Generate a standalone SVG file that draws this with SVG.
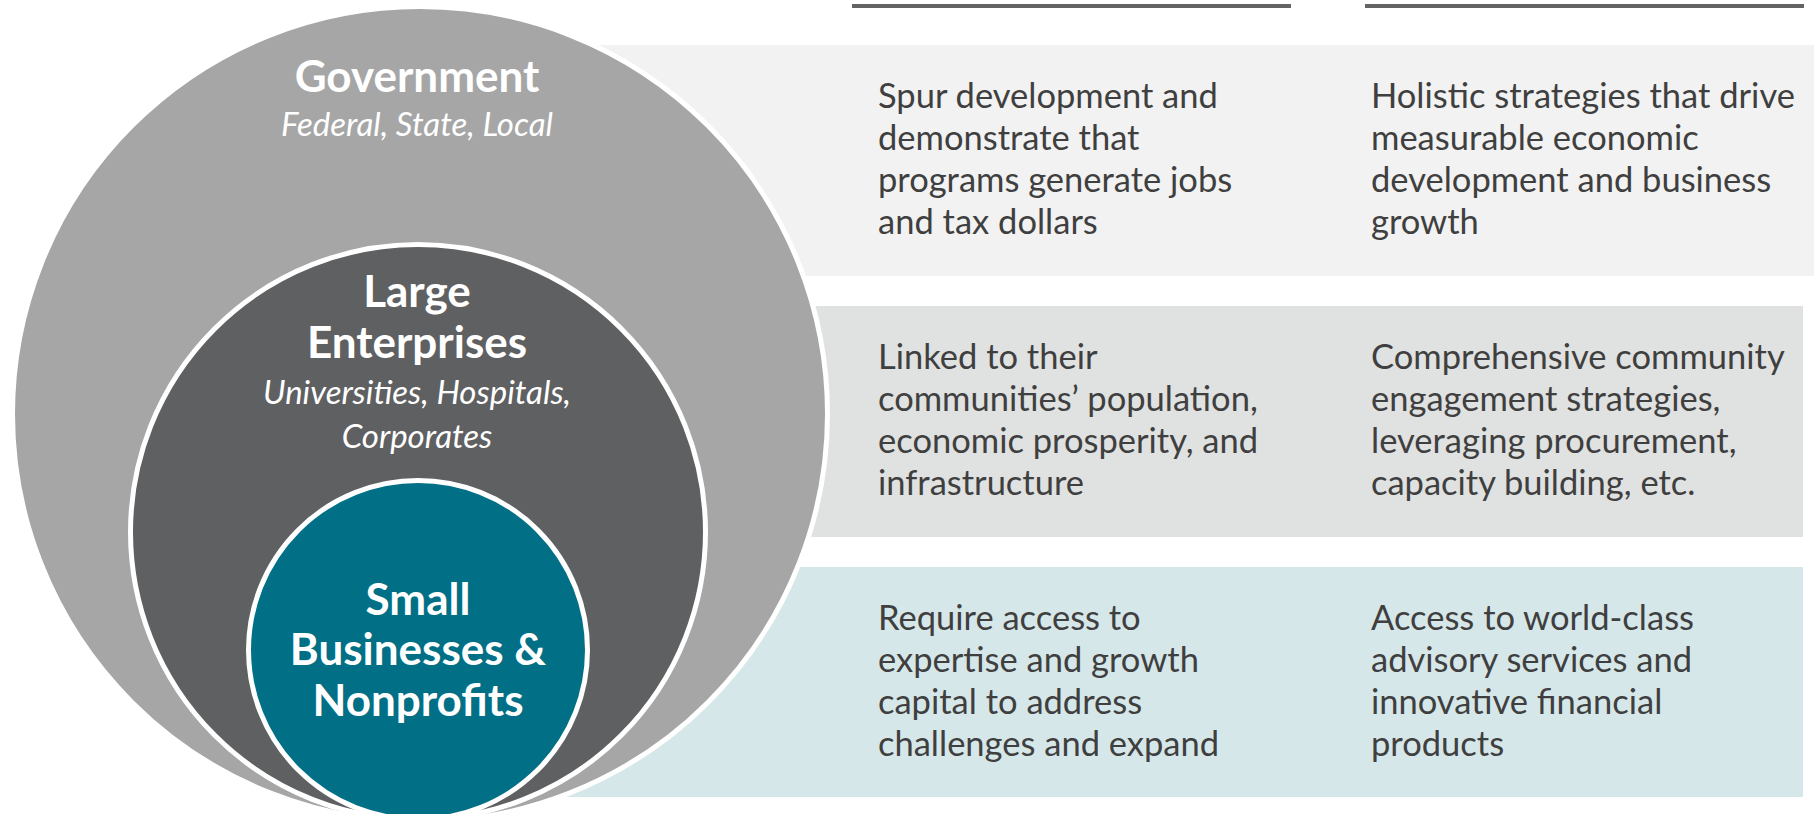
<svg xmlns="http://www.w3.org/2000/svg" width="1818" height="814" viewBox="0 0 1818 814">
  <style>
    .band-text { font-family: Lato, "Open Sans", "Liberation Sans", sans-serif; font-size: 34.5px; fill: #3f3f3f; }
    .title { font-family: Lato, "Open Sans", "Liberation Sans", sans-serif; font-weight: 700; font-size: 44px; fill: #ffffff; text-anchor: middle; }
    .sub { font-family: Lato, "Open Sans", "Liberation Sans", sans-serif; font-style: italic; font-size: 33px; fill: #ffffff; text-anchor: middle; }
    .ring { stroke: #ffffff; stroke-width: 5; }
    .rule { fill: #636363; }
  </style>

  <!-- column header rules -->
  <g id="header-rules">
    <rect class="rule" x="852" y="4" width="439" height="4"/>
    <rect class="rule" x="1365" y="4" width="439" height="4"/>
  </g>

  <!-- horizontal bands, one per stakeholder tier -->
  <g id="row-government">
    <rect x="560" y="45" width="1254" height="231" fill="#f2f2f2"/>
    <text class="band-text" x="878" y="108">
      <tspan x="878" y="108">Spur development and</tspan>
      <tspan x="878" y="150">demonstrate that</tspan>
      <tspan x="878" y="192">programs generate jobs</tspan>
      <tspan x="878" y="234">and tax dollars</tspan>
    </text>
    <text class="band-text" x="1371" y="108">
      <tspan x="1371" y="108">Holistic strategies that drive</tspan>
      <tspan x="1371" y="150">measurable economic</tspan>
      <tspan x="1371" y="192">development and business</tspan>
      <tspan x="1371" y="234">growth</tspan>
    </text>
  </g>

  <g id="row-large-enterprises">
    <rect x="700" y="306" width="1103" height="231" fill="#e0e1e1"/>
    <text class="band-text" x="878" y="369">
      <tspan x="878" y="369">Linked to their</tspan>
      <tspan x="878" y="411">communities’ population,</tspan>
      <tspan x="878" y="453">economic prosperity, and</tspan>
      <tspan x="878" y="495">infrastructure</tspan>
    </text>
    <text class="band-text" x="1371" y="369">
      <tspan x="1371" y="369">Comprehensive community</tspan>
      <tspan x="1371" y="411">engagement strategies,</tspan>
      <tspan x="1371" y="453">leveraging procurement,</tspan>
      <tspan x="1371" y="495">capacity building, etc.</tspan>
    </text>
  </g>

  <g id="row-small-businesses">
    <rect x="500" y="567" width="1303" height="230" fill="#d6e7e9"/>
    <text class="band-text" x="878" y="630">
      <tspan x="878" y="630">Require access to</tspan>
      <tspan x="878" y="672">expertise and growth</tspan>
      <tspan x="878" y="714">capital to address</tspan>
      <tspan x="878" y="756">challenges and expand</tspan>
    </text>
    <text class="band-text" x="1371" y="630">
      <tspan x="1371" y="630">Access to world-class</tspan>
      <tspan x="1371" y="672">advisory services and</tspan>
      <tspan x="1371" y="714">innovative financial</tspan>
      <tspan x="1371" y="756">products</tspan>
    </text>
  </g>

  <!-- nested circles -->
  <g id="government">
    <circle class="ring" cx="420" cy="414" r="407.5" fill="#a6a6a6"/>
    <text class="title" x="417" y="92">Government</text>
    <text class="sub" x="417" y="136">Federal, State, Local</text>
  </g>

  <g id="large-enterprises">
    <circle class="ring" cx="418" cy="532" r="287.5" fill="#5f6062"/>
    <text class="title" x="417" y="307">Large</text>
    <text class="title" x="417" y="358">Enterprises</text>
    <text class="sub" x="417" y="404">Universities, Hospitals,</text>
    <text class="sub" x="417" y="448">Corporates</text>
  </g>

  <g id="small-businesses">
    <circle class="ring" cx="418" cy="650" r="169.5" fill="#016f85"/>
    <text class="title" x="418" y="615">Small</text>
    <text class="title" x="418" y="665">Businesses &amp;</text>
    <text class="title" x="418" y="716">Nonprofits</text>
  </g>
</svg>
